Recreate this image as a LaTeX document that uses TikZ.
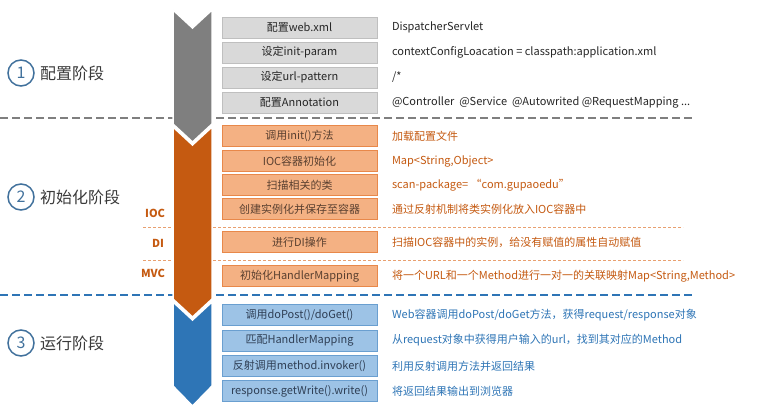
\documentclass[tikz,border=0pt]{standalone}
\usepackage{fontspec}
\setmainfont{Noto Sans CJK SC}
\begin{document}
\begin{tikzpicture}[x=1pt,y=-1pt,
  every node/.style={inner sep=0pt, outer sep=0pt},
  boxg/.style={draw=grayedge, fill=grayfill, line width=0.8pt, minimum width=155pt, minimum height=21pt, font=\fontsize{11}{12}\selectfont, text=txtdark},
  boxo/.style={draw=orangeedge, fill=orangefill, line width=0.8pt, minimum width=155pt, minimum height=21pt, font=\fontsize{11}{12}\selectfont, text=txtbrown},
  boxb/.style={draw=blueedge, fill=bluefill, line width=0.8pt, minimum width=155pt, minimum height=21pt, font=\fontsize{11}{12}\selectfont, text=txtnavy},
  descg/.style={anchor=west, font=\fontsize{11}{12}\selectfont, text=txtdark},
  desco/.style={anchor=west, font=\fontsize{11}{12}\selectfont, text=orangearrow},
  descb/.style={anchor=west, font=\fontsize{11}{12}\selectfont, text=bluearrow},
  circnum/.style={circle, draw=circblue, line width=1.5pt, minimum size=26pt, font=\fontsize{16}{18}\selectfont, text=circblue},
  phase/.style={anchor=west, font=\fontsize{16}{18}\selectfont, text=titlegray},
  sidelbl/.style={anchor=east, font=\bfseries\fontsize{11}{12}\selectfont, text=orangearrow},
  chev/.style={draw=white, line width=1.5pt, line join=miter}
]
\definecolor{grayarrow}{HTML}{7F7F7F}
\definecolor{grayfill}{HTML}{D9D9D9}
\definecolor{grayedge}{HTML}{BFBFBF}
\definecolor{orangearrow}{HTML}{C55A11}
\definecolor{orangefill}{HTML}{F4B183}
\definecolor{orangeedge}{HTML}{E8884A}
\definecolor{bluearrow}{HTML}{2E75B6}
\definecolor{bluefill}{HTML}{9DC3E6}
\definecolor{blueedge}{HTML}{6A9FD0}
\definecolor{txtdark}{HTML}{262626}
\definecolor{txtbrown}{HTML}{5A4030}
\definecolor{txtnavy}{HTML}{2F3F55}
\definecolor{circblue}{HTML}{41719C}
\definecolor{titlegray}{HTML}{3A3A3A}
\definecolor{dotorange}{HTML}{E8A070}

\useasboundingbox[fill=white] (0,0) rectangle (760,420);

% separators
\draw[grayarrow, line width=2.2pt, dash pattern=on 8pt off 4pt] (0,118) -- (693,118);
\draw[bluearrow, line width=2.2pt, dash pattern=on 8pt off 4pt] (0,295) -- (693,295);
\draw[dotorange, line width=0.7pt, densely dashed] (143,227) -- (683,227);
\draw[dotorange, line width=0.7pt, densely dashed] (143,260) -- (683,260);

% chevron arrows
\fill[grayarrow, chev] (173,10) -- (192.5,28) -- (212,10) -- (212,124) -- (192.5,142) -- (173,124) -- cycle;
\fill[orangearrow, chev] (173,127) -- (192.5,145) -- (212,127) -- (212,299) -- (192.5,317) -- (173,299) -- cycle;
\fill[bluearrow, chev] (173,302) -- (192.5,320) -- (212,302) -- (212,386) -- (192.5,406) -- (173,386) -- cycle;

% phase titles
\node[circnum] (c1) at (21,73) {1};
\node[phase] (t1) at (40,73) {配置阶段};
\node[circnum] (c2) at (21,197) {2};
\node[phase] (t2) at (40,197) {初始化阶段};
\node[circnum] (c3) at (21,343) {3};
\node[phase] (t3) at (40,343) {运行阶段};

% side labels
\node[sidelbl] (lioc) at (165,213) {IOC};
\node[sidelbl] (ldi) at (164,243) {DI};
\node[sidelbl] (lmvc) at (165,273) {MVC};

% gray boxes
\node[boxg] (g1) at (299.5,27.5) {配置web.xml};
\node[boxg] (g2) at (299.5,52.5) {设定init-param};
\node[boxg] (g3) at (299.5,77.5) {设定url-pattern};
\node[boxg] (g4) at (299.5,102.5) {配置Annotation};
\node[descg] (gd1) at (392,27.5) {DispatcherServlet};
\node[descg] (gd2) at (392,52.5) {contextConfigLoacation = classpath:application.xml};
\node[descg] (gd3) at (392,77.5) {/*};
\node[descg] (gd4) at (392,102.5) {@Controller\ \ @Service\ \ @Autowrited @RequestMapping ...};

% orange boxes
\node[boxo] (o1) at (299.5,136) {调用init()方法};
\node[boxo] (o2) at (299.5,161) {IOC容器初始化};
\node[boxo] (o3) at (299.5,185) {扫描相关的类};
\node[boxo] (o4) at (299.5,209) {创建实例化并保存至容器};
\node[boxo] (o5) at (299.5,242) {进行DI操作};
\node[boxo] (o6) at (299.5,276) {初始化HandlerMapping};
\node[desco] (od1) at (392,136) {加载配置文件};
\node[desco] (od2) at (392,161) {Map<String,Object>};
\node[desco] (od3) at (392,185) {scan-package=\ “com.gupaoedu”};
\node[desco] (od4) at (392,209) {通过反射机制将类实例化放入IOC容器中};
\node[desco] (od5) at (392,242) {扫描IOC容器中的实例，给没有赋值的属性自动赋值};
\node[desco] (od6) at (392,276) {将一个URL和一个Method进行一对一的关联映射Map<String,Method>};

% blue boxes
\node[boxb] (b1) at (299.5,315) {调用doPost()/doGet()};
\node[boxb] (b2) at (299.5,340.5) {匹配HandlerMapping};
\node[boxb] (b3) at (299.5,366) {反射调用method.invoker()};
\node[boxb] (b4) at (299.5,391) {response.getWrite().write()};
\node[descb] (bd1) at (392,315) {Web容器调用doPost/doGet方法，获得request/response对象};
\node[descb] (bd2) at (392,340.5) {从request对象中获得用户输入的url，找到其对应的Method};
\node[descb] (bd3) at (392,366) {利用反射调用方法并返回结果};
\node[descb] (bd4) at (392,391) {将返回结果输出到浏览器};
\end{tikzpicture}
\end{document}
